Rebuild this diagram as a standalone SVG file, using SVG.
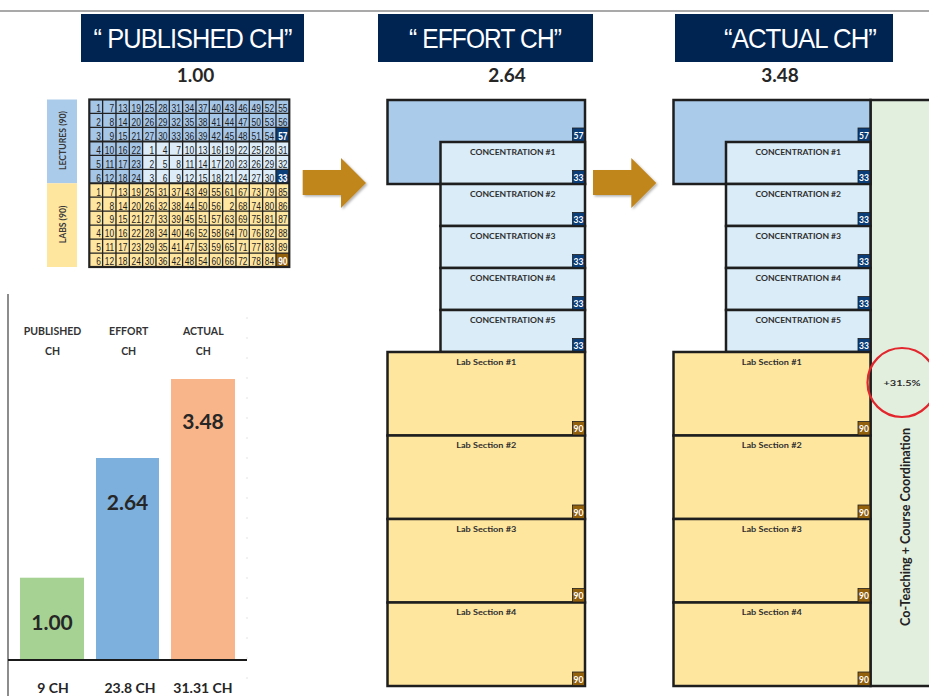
<svg xmlns="http://www.w3.org/2000/svg" width="929" height="696" viewBox="0 0 929 696">
<style>
.hdr{fill:#002452}
.hdrt{font-family:"Liberation Sans",Arial,sans-serif;font-size:28px;fill:#fff;letter-spacing:-1px}
.val{font-family:Lato,"Liberation Sans",sans-serif;font-weight:bold;font-size:19px;fill:#262626;text-anchor:middle}
.blk{stroke:#1e1e1e;stroke-width:2.5}
.lec{fill:#abcbea}
.con{fill:#d9ecf8}
.lab{fill:#ffe69f}
.grn{fill:#e2efdf}
.lbl{font-family:Lato,"Liberation Sans",sans-serif;font-weight:bold;font-size:8px;fill:#2e2e2e;text-anchor:middle}
.bn{fill:#0b3d78;stroke:#1e1e1e;stroke-width:0.8}
.bg{fill:#93600c;stroke:#1e1e1e;stroke-width:0.8}
.bt{font-family:Lato,"Liberation Sans",sans-serif;font-weight:bold;font-size:8.5px;fill:#fff;text-anchor:middle}
.cell{font-family:"Liberation Sans",Arial,sans-serif;font-size:10.5px;fill:#1e1e1e;text-anchor:end}
.cellw{fill:#fff;font-weight:bold}
.side{font-family:Lato,"Liberation Sans",sans-serif;font-weight:bold;font-size:9px;fill:#3a3a3a;text-anchor:middle}
.chl{font-family:Lato,"Liberation Sans",sans-serif;font-weight:bold;font-size:10.5px;fill:#333;text-anchor:middle}
.barv{font-family:Lato,"Liberation Sans",sans-serif;font-weight:bold;font-size:21px;fill:#262626;text-anchor:middle}
.barb{font-family:Lato,"Liberation Sans",sans-serif;font-weight:bold;font-size:14px;fill:#262626;text-anchor:middle}
.arrow{fill:#c0861f}
</style>
<defs>
<filter id="sh" x="-20%" y="-20%" width="150%" height="150%">
<feDropShadow dx="1.5" dy="1.5" stdDeviation="1.2" flood-color="#000" flood-opacity="0.3"/>
</filter>
</defs>

<line x1="0" y1="11" x2="929" y2="11" stroke="#555" stroke-width="1.2"/>

<g id="header-published">
<rect class="hdr" x="81" y="14" width="223" height="48"/>
<text class="hdrt" x="93.5" y="47.5" textLength="198" lengthAdjust="spacingAndGlyphs">“ PUBLISHED CH”</text>
<text class="val" x="195.5" y="82">1.00</text>
</g>
<g id="header-effort">
<rect class="hdr" x="378" y="14" width="215" height="48"/>
<text class="hdrt" x="409" y="47.5" textLength="152" lengthAdjust="spacingAndGlyphs">“ EFFORT CH”</text>
<text class="val" x="507" y="82">2.64</text>
</g>
<g id="header-actual">
<rect class="hdr" x="675" y="14" width="218" height="48"/>
<text class="hdrt" x="724" y="47.5" textLength="152" lengthAdjust="spacingAndGlyphs">“ACTUAL CH”</text>
<text class="val" x="780" y="82">3.48</text>
</g>

<g id="grid-legend">
<rect x="47" y="99.5" width="30" height="83.8" fill="#abcbea"/>
<rect x="47" y="183.3" width="30" height="83.7" fill="#ffe69f"/>
<text class="side" transform="translate(66,140.5) rotate(-90)" textLength="59" lengthAdjust="spacingAndGlyphs">LECTURES (90)</text>
<text class="side" transform="translate(66,224.5) rotate(-90)" textLength="37.6" lengthAdjust="spacingAndGlyphs">LABS (90)</text>
</g>

<g id="schedule-grid">
<rect x="89.3" y="99.5" width="200" height="41.88" fill="#a6c6e8"/>
<rect x="89.3" y="141.38" width="53.33" height="41.88" fill="#a6c6e8"/>
<rect x="142.63" y="141.38" width="146.67" height="41.88" fill="#dcedf9"/>
<rect x="89.3" y="183.26" width="200" height="83.76" fill="#fee5a0"/>
<rect x="275.97" y="127.42" width="13.33" height="13.96" fill="#0b3d78"/>
<rect x="275.97" y="169.3" width="13.33" height="13.96" fill="#0b3d78"/>
<rect x="275.97" y="253.06" width="13.33" height="13.96" fill="#93600c"/>
<path d="M102.63 99.5V267M115.97 99.5V267M129.3 99.5V267M142.63 99.5V267M155.97 99.5V267M169.3 99.5V267M182.63 99.5V267M195.97 99.5V267M209.3 99.5V267M222.63 99.5V267M235.97 99.5V267M249.3 99.5V267M262.63 99.5V267M275.97 99.5V267M89.3 113.46H289.3M89.3 127.42H289.3M89.3 155.34H289.3M89.3 169.3H289.3M89.3 197.22H289.3M89.3 211.18H289.3M89.3 225.14H289.3M89.3 239.1H289.3M89.3 253.06H289.3" fill="none" stroke="#222" stroke-width="1.3"/>
<path d="M89.3 141.38H289.3M89.3 183.26H289.3" fill="none" stroke="#222" stroke-width="2"/>
<rect x="89.3" y="99.5" width="200" height="167.5" fill="none" stroke="#222" stroke-width="2.2"/>
<g transform="scale(0.8 1)">
<text class="cell" y="111.8"><tspan x="126.04">1</tspan><tspan x="142.71">7</tspan><tspan x="159.38">13</tspan><tspan x="176.04">19</tspan><tspan x="192.71">25</tspan><tspan x="209.38">28</tspan><tspan x="226.04">31</tspan><tspan x="242.71">34</tspan><tspan x="259.38">37</tspan><tspan x="276.04">40</tspan><tspan x="292.71">43</tspan><tspan x="309.38">46</tspan><tspan x="326.04">49</tspan><tspan x="342.71">52</tspan><tspan x="359.38">55</tspan></text>
<text class="cell" y="125.76"><tspan x="126.04">2</tspan><tspan x="142.71">8</tspan><tspan x="159.38">14</tspan><tspan x="176.04">20</tspan><tspan x="192.71">26</tspan><tspan x="209.38">29</tspan><tspan x="226.04">32</tspan><tspan x="242.71">35</tspan><tspan x="259.38">38</tspan><tspan x="276.04">41</tspan><tspan x="292.71">44</tspan><tspan x="309.38">47</tspan><tspan x="326.04">50</tspan><tspan x="342.71">53</tspan><tspan x="359.38">56</tspan></text>
<text class="cell" y="139.72"><tspan x="126.04">3</tspan><tspan x="142.71">9</tspan><tspan x="159.38">15</tspan><tspan x="176.04">21</tspan><tspan x="192.71">27</tspan><tspan x="209.38">30</tspan><tspan x="226.04">33</tspan><tspan x="242.71">36</tspan><tspan x="259.38">39</tspan><tspan x="276.04">42</tspan><tspan x="292.71">45</tspan><tspan x="309.38">48</tspan><tspan x="326.04">51</tspan><tspan x="342.71">54</tspan><tspan class="cellw" x="359.38">57</tspan></text>
<text class="cell" y="153.68"><tspan x="126.04">4</tspan><tspan x="142.71">10</tspan><tspan x="159.38">16</tspan><tspan x="176.04">22</tspan><tspan x="192.71">1</tspan><tspan x="209.38">4</tspan><tspan x="226.04">7</tspan><tspan x="242.71">10</tspan><tspan x="259.38">13</tspan><tspan x="276.04">16</tspan><tspan x="292.71">19</tspan><tspan x="309.38">22</tspan><tspan x="326.04">25</tspan><tspan x="342.71">28</tspan><tspan x="359.38">31</tspan></text>
<text class="cell" y="167.64"><tspan x="126.04">5</tspan><tspan x="142.71">11</tspan><tspan x="159.38">17</tspan><tspan x="176.04">23</tspan><tspan x="192.71">2</tspan><tspan x="209.38">5</tspan><tspan x="226.04">8</tspan><tspan x="242.71">11</tspan><tspan x="259.38">14</tspan><tspan x="276.04">17</tspan><tspan x="292.71">20</tspan><tspan x="309.38">23</tspan><tspan x="326.04">26</tspan><tspan x="342.71">29</tspan><tspan x="359.38">32</tspan></text>
<text class="cell" y="181.6"><tspan x="126.04">6</tspan><tspan x="142.71">12</tspan><tspan x="159.38">18</tspan><tspan x="176.04">24</tspan><tspan x="192.71">3</tspan><tspan x="209.38">6</tspan><tspan x="226.04">9</tspan><tspan x="242.71">12</tspan><tspan x="259.38">15</tspan><tspan x="276.04">18</tspan><tspan x="292.71">21</tspan><tspan x="309.38">24</tspan><tspan x="326.04">27</tspan><tspan x="342.71">30</tspan><tspan class="cellw" x="359.38">33</tspan></text>
<text class="cell" y="195.56"><tspan x="126.04">1</tspan><tspan x="142.71">7</tspan><tspan x="159.38">13</tspan><tspan x="176.04">19</tspan><tspan x="192.71">25</tspan><tspan x="209.38">31</tspan><tspan x="226.04">37</tspan><tspan x="242.71">43</tspan><tspan x="259.38">49</tspan><tspan x="276.04">55</tspan><tspan x="292.71">61</tspan><tspan x="309.38">67</tspan><tspan x="326.04">73</tspan><tspan x="342.71">79</tspan><tspan x="359.38">85</tspan></text>
<text class="cell" y="209.52"><tspan x="126.04">2</tspan><tspan x="142.71">8</tspan><tspan x="159.38">14</tspan><tspan x="176.04">20</tspan><tspan x="192.71">26</tspan><tspan x="209.38">32</tspan><tspan x="226.04">38</tspan><tspan x="242.71">44</tspan><tspan x="259.38">50</tspan><tspan x="276.04">56</tspan><tspan x="292.71">2</tspan><tspan x="309.38">68</tspan><tspan x="326.04">74</tspan><tspan x="342.71">80</tspan><tspan x="359.38">86</tspan></text>
<text class="cell" y="223.48"><tspan x="126.04">3</tspan><tspan x="142.71">9</tspan><tspan x="159.38">15</tspan><tspan x="176.04">21</tspan><tspan x="192.71">27</tspan><tspan x="209.38">33</tspan><tspan x="226.04">39</tspan><tspan x="242.71">45</tspan><tspan x="259.38">51</tspan><tspan x="276.04">57</tspan><tspan x="292.71">63</tspan><tspan x="309.38">69</tspan><tspan x="326.04">75</tspan><tspan x="342.71">81</tspan><tspan x="359.38">87</tspan></text>
<text class="cell" y="237.44"><tspan x="126.04">4</tspan><tspan x="142.71">10</tspan><tspan x="159.38">16</tspan><tspan x="176.04">22</tspan><tspan x="192.71">28</tspan><tspan x="209.38">34</tspan><tspan x="226.04">40</tspan><tspan x="242.71">46</tspan><tspan x="259.38">52</tspan><tspan x="276.04">58</tspan><tspan x="292.71">64</tspan><tspan x="309.38">70</tspan><tspan x="326.04">76</tspan><tspan x="342.71">82</tspan><tspan x="359.38">88</tspan></text>
<text class="cell" y="251.4"><tspan x="126.04">5</tspan><tspan x="142.71">11</tspan><tspan x="159.38">17</tspan><tspan x="176.04">23</tspan><tspan x="192.71">29</tspan><tspan x="209.38">35</tspan><tspan x="226.04">41</tspan><tspan x="242.71">47</tspan><tspan x="259.38">53</tspan><tspan x="276.04">59</tspan><tspan x="292.71">65</tspan><tspan x="309.38">71</tspan><tspan x="326.04">77</tspan><tspan x="342.71">83</tspan><tspan x="359.38">89</tspan></text>
<text class="cell" y="265.36"><tspan x="126.04">6</tspan><tspan x="142.71">12</tspan><tspan x="159.38">18</tspan><tspan x="176.04">24</tspan><tspan x="192.71">30</tspan><tspan x="209.38">36</tspan><tspan x="226.04">42</tspan><tspan x="242.71">48</tspan><tspan x="259.38">54</tspan><tspan x="276.04">60</tspan><tspan x="292.71">66</tspan><tspan x="309.38">72</tspan><tspan x="326.04">78</tspan><tspan x="342.71">84</tspan><tspan class="cellw" x="359.38">90</tspan></text>
</g>
</g>

<g id="bar-chart">
<line x1="8" y1="294" x2="8" y2="696" stroke="#808080" stroke-width="1.8"/>
<line x1="247" y1="317.5" x2="247" y2="692" stroke="#c8c8c8" stroke-width="1" stroke-dasharray="1 19"/>
<text class="chl" x="52.5" y="335">PUBLISHED</text>
<text class="chl" x="52.5" y="355">CH</text>
<text class="chl" x="128.7" y="335">EFFORT</text>
<text class="chl" x="128.7" y="355">CH</text>
<text class="chl" x="203.3" y="335">ACTUAL</text>
<text class="chl" x="203.3" y="355">CH</text>
<rect x="20" y="577.7" width="64" height="82.3" fill="#a6d394"/>
<rect x="96" y="458" width="63" height="202" fill="#7eb0de"/>
<rect x="171" y="379" width="64" height="281" fill="#f8b58a"/>
<text class="barv" x="52" y="630">1.00</text>
<text class="barv" x="127.5" y="510">2.64</text>
<text class="barv" x="203" y="429">3.48</text>
<line x1="8" y1="660" x2="247" y2="660" stroke="#1a1a1a" stroke-width="2"/>
<text class="barb" x="53" y="692.5">9 CH</text>
<text class="barb" x="130" y="692.5">23.8 CH</text>
<text class="barb" x="203" y="692.5">31.31 CH</text>
</g>

<g id="effort-lectures">
<rect class="blk lec" x="387.5" y="100" width="197.5" height="84"/>
<rect class="bn" x="572.5" y="128" width="12" height="13.5"/>
<text class="bt" x="578.5" y="138.5">57</text>
</g>
<g id="effort-concentrations">
<rect class="blk con" x="440.5" y="142" width="144.5" height="42"/>
<rect class="blk con" x="440.5" y="184" width="144.5" height="42"/>
<rect class="blk con" x="440.5" y="226" width="144.5" height="42"/>
<rect class="blk con" x="440.5" y="268" width="144.5" height="42"/>
<rect class="blk con" x="440.5" y="310" width="144.5" height="42"/>
<text class="lbl" x="512.75" y="154.5" textLength="85.7" lengthAdjust="spacingAndGlyphs">CONCENTRATION #1</text>
<text class="lbl" x="512.75" y="196.5" textLength="85.7" lengthAdjust="spacingAndGlyphs">CONCENTRATION #2</text>
<text class="lbl" x="512.75" y="238.5" textLength="85.7" lengthAdjust="spacingAndGlyphs">CONCENTRATION #3</text>
<text class="lbl" x="512.75" y="280.5" textLength="85.7" lengthAdjust="spacingAndGlyphs">CONCENTRATION #4</text>
<text class="lbl" x="512.75" y="322.5" textLength="85.7" lengthAdjust="spacingAndGlyphs">CONCENTRATION #5</text>
<rect class="bn" x="572.5" y="170.5" width="12" height="13"/><text class="bt" x="578.5" y="181">33</text>
<rect class="bn" x="572.5" y="212.5" width="12" height="13"/><text class="bt" x="578.5" y="223">33</text>
<rect class="bn" x="572.5" y="254.5" width="12" height="13"/><text class="bt" x="578.5" y="265">33</text>
<rect class="bn" x="572.5" y="296.5" width="12" height="13"/><text class="bt" x="578.5" y="307">33</text>
<rect class="bn" x="572.5" y="338.5" width="12" height="13"/><text class="bt" x="578.5" y="349">33</text>
</g>
<g id="effort-labs">
<rect class="blk lab" x="387.5" y="352" width="197.5" height="83.5"/>
<rect class="blk lab" x="387.5" y="435.5" width="197.5" height="83.5"/>
<rect class="blk lab" x="387.5" y="519" width="197.5" height="83.5"/>
<rect class="blk lab" x="387.5" y="602.5" width="197.5" height="83.5"/>
<text class="lbl" x="486.25" y="364.5" textLength="60" lengthAdjust="spacingAndGlyphs">Lab Section #1</text>
<text class="lbl" x="486.25" y="448" textLength="60" lengthAdjust="spacingAndGlyphs">Lab Section #2</text>
<text class="lbl" x="486.25" y="531.5" textLength="60" lengthAdjust="spacingAndGlyphs">Lab Section #3</text>
<text class="lbl" x="486.25" y="615" textLength="60" lengthAdjust="spacingAndGlyphs">Lab Section #4</text>
<rect class="bg" x="572.5" y="421.5" width="12" height="13.5"/><text class="bt" x="578.5" y="432">90</text>
<rect class="bg" x="572.5" y="505" width="12" height="13.5"/><text class="bt" x="578.5" y="515.5">90</text>
<rect class="bg" x="572.5" y="588.5" width="12" height="13.5"/><text class="bt" x="578.5" y="599">90</text>
<rect class="bg" x="572.5" y="672" width="12" height="13.5"/><text class="bt" x="578.5" y="682.5">90</text>
</g>

<g id="actual-coteaching">
<rect class="blk grn" x="870.5" y="100" width="65" height="586"/>
<text font-family="Lato,'Liberation Sans',sans-serif" font-weight="bold" font-size="13px" fill="#222" text-anchor="middle" transform="translate(910,527) rotate(-90)" textLength="198" lengthAdjust="spacingAndGlyphs">Co-Teaching + Course Coordination</text>
</g>
<g id="actual-lectures">
<rect class="blk lec" x="673.5" y="100" width="197" height="84"/>
<rect class="bn" x="858" y="128" width="12" height="13.5"/>
<text class="bt" x="864" y="138.5">57</text>
</g>
<g id="actual-concentrations">
<rect class="blk con" x="726" y="142" width="144.5" height="42"/>
<rect class="blk con" x="726" y="184" width="144.5" height="42"/>
<rect class="blk con" x="726" y="226" width="144.5" height="42"/>
<rect class="blk con" x="726" y="268" width="144.5" height="42"/>
<rect class="blk con" x="726" y="310" width="144.5" height="42"/>
<text class="lbl" x="798.25" y="154.5" textLength="85.7" lengthAdjust="spacingAndGlyphs">CONCENTRATION #1</text>
<text class="lbl" x="798.25" y="196.5" textLength="85.7" lengthAdjust="spacingAndGlyphs">CONCENTRATION #2</text>
<text class="lbl" x="798.25" y="238.5" textLength="85.7" lengthAdjust="spacingAndGlyphs">CONCENTRATION #3</text>
<text class="lbl" x="798.25" y="280.5" textLength="85.7" lengthAdjust="spacingAndGlyphs">CONCENTRATION #4</text>
<text class="lbl" x="798.25" y="322.5" textLength="85.7" lengthAdjust="spacingAndGlyphs">CONCENTRATION #5</text>
<rect class="bn" x="858" y="170.5" width="12" height="13"/><text class="bt" x="864" y="181">33</text>
<rect class="bn" x="858" y="212.5" width="12" height="13"/><text class="bt" x="864" y="223">33</text>
<rect class="bn" x="858" y="254.5" width="12" height="13"/><text class="bt" x="864" y="265">33</text>
<rect class="bn" x="858" y="296.5" width="12" height="13"/><text class="bt" x="864" y="307">33</text>
<rect class="bn" x="858" y="338.5" width="12" height="13"/><text class="bt" x="864" y="349">33</text>
</g>
<g id="actual-labs">
<rect class="blk lab" x="673.5" y="352" width="197" height="83.5"/>
<rect class="blk lab" x="673.5" y="435.5" width="197" height="83.5"/>
<rect class="blk lab" x="673.5" y="519" width="197" height="83.5"/>
<rect class="blk lab" x="673.5" y="602.5" width="197" height="83.5"/>
<text class="lbl" x="771.75" y="364.5" textLength="60" lengthAdjust="spacingAndGlyphs">Lab Section #1</text>
<text class="lbl" x="771.75" y="448" textLength="60" lengthAdjust="spacingAndGlyphs">Lab Section #2</text>
<text class="lbl" x="771.75" y="531.5" textLength="60" lengthAdjust="spacingAndGlyphs">Lab Section #3</text>
<text class="lbl" x="771.75" y="615" textLength="60" lengthAdjust="spacingAndGlyphs">Lab Section #4</text>
<rect class="bg" x="858" y="421.5" width="12" height="13.5"/><text class="bt" x="864" y="432">90</text>
<rect class="bg" x="858" y="505" width="12" height="13.5"/><text class="bt" x="864" y="515.5">90</text>
<rect class="bg" x="858" y="588.5" width="12" height="13.5"/><text class="bt" x="864" y="599">90</text>
<rect class="bg" x="858" y="672" width="12" height="13.5"/><text class="bt" x="864" y="682.5">90</text>
</g>
<g id="increase-callout">
<circle cx="902" cy="382.5" r="34.5" fill="none" stroke="#e3262d" stroke-width="2.2"/>
<text class="lbl" x="902" y="385.5" font-size="9.5px" textLength="37" lengthAdjust="spacingAndGlyphs">+31.5%</text>
</g>

<g id="connectors">
<path class="arrow" filter="url(#sh)" d="M302.7 170H341V158L366 183L341 208V195H302.7Z"/>
<path class="arrow" filter="url(#sh)" d="M593 170H631.3V158L656.3 183L631.3 208V195H593Z"/>
</g>
</svg>
